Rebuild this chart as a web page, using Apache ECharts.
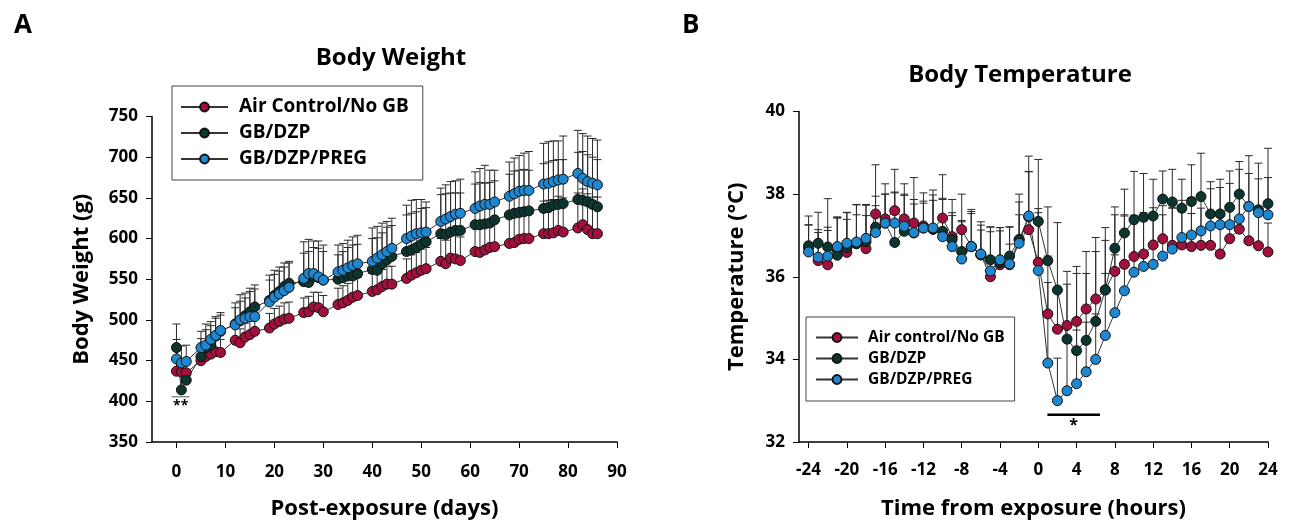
<!DOCTYPE html>
<html>
<head>
<meta charset="utf-8">
<script src="https://cdn.jsdelivr.net/npm/echarts@6/dist/echarts.min.js"></script>
<style>
  html, body { margin: 0; padding: 0; background: #fff; }
  #main { width: 1291px; height: 529px; }
</style>
</head>
<body>
<div id="main"></div>
<script>
// panel A - body weight (g) by post-exposure day
var days = [0, 1, 2, 5, 6, 7, 8, 9, 12, 13, 14, 15, 16, 19, 20, 21, 22, 23, 26, 27, 28, 29, 30,
  33, 34, 35, 36, 37, 40, 41, 42, 43, 44, 47, 48, 49, 50, 51, 54, 55, 56, 57, 58,
  61, 62, 63, 64, 65, 68, 69, 70, 71, 72, 75, 76, 77, 78, 79, 82, 83, 84, 85, 86];
var airWeight = [437, 436, 435, 450, 455, 458, 461, 460, 475, 472, 479, 482, 486, 490, 495, 498, 501, 502,
  509, 510, 516, 515, 510, 519, 521, 524, 528, 530, 535, 537, 541, 544, 544, 551, 555, 558, 561, 563,
  572, 569, 576, 575, 573, 584, 583, 586, 589, 590, 594, 595, 599, 600, 600, 606, 606, 607, 610, 608,
  613, 617, 611, 606, 606];
var dzpWeight = [466, 414, 426, 455, 466, 469, 480, 486, 495, 499, 505, 510, 516, 524, 530, 535, 541, 545,
  547, 546, 553, 552, 549, 550, 552, 554, 554, 557, 562, 561, 569, 574, 578, 584, 586, 589, 593, 596,
  606, 605, 608, 610, 610, 617, 617, 618, 619, 623, 629, 631, 632, 633, 634, 637, 638, 641, 642, 643,
  648, 647, 645, 642, 639];
var pregWeight = [452, 447, 449, 466, 469, 476, 481, 487, 494, 500, 502, 504, 504, 522, 528, 532, 536, 540,
  551, 557, 557, 553, 549, 559, 561, 564, 567, 569, 572, 576, 580, 584, 588, 600, 603, 606, 607, 608,
  621, 624, 627, 630, 631, 637, 640, 642, 642, 645, 652, 655, 658, 659, 659, 667, 668, 670, 672, 673,
  680, 674, 670, 668, 666];
var airWeightErr = [12, 10, 10, 14, 15, 15, 16, 16, 16, 17, 17, 18, 18, 18, 19, 19, 20, 20,
  18, 19, 18, 19, 20, 20, 21, 21, 22, 22, 22, 22, 21, 22, 22, 24, 25, 25, 26, 26,
  28, 29, 28, 29, 29, 32, 33, 33, 34, 34, 36, 37, 37, 38, 38, 40, 41, 41, 42, 42,
  43, 44, 44, 45, 45];
var dzpWeightErr = [29, 25, 22, 22, 22, 24, 22, 20, 20, 24, 22, 25, 22, 25, 26, 25, 24, 25,
  35, 38, 36, 36, 35, 30, 32, 35, 38, 36, 38, 40, 38, 40, 38, 45, 45, 44, 44, 42,
  48, 50, 48, 46, 46, 50, 52, 50, 50, 48, 50, 52, 52, 52, 50, 55, 56, 55, 55, 54,
  58, 60, 58, 58, 58];
var pregWeightErr = [24, 21, 20, 20, 26, 22, 23, 22, 27, 31, 31, 35, 39, 33, 33, 33, 34, 32,
  45, 42, 40, 44, 43, 33, 33, 34, 35, 35, 41, 39, 39, 37, 37, 41, 44, 42, 41, 37,
  41, 42, 43, 41, 42, 45, 46, 48, 42, 39, 42, 44, 44, 46, 48, 50, 51, 50, 48, 53,
  53, 55, 56, 55, 55];
var dayTicks = [0, 10, 20, 30, 40, 50, 60, 70, 80, 90];
var sigDaysA = [-1, 2.7];
var sigLevelA = 405.5;

// panel B - body temperature by hour from exposure
var hours = [-24, -23, -22, -21, -20, -19, -18, -17, -16, -15, -14, -13, -12, -11, -10, -9, -8, -7, -6, -5, -4, -3, -2, -1,
  0, 1, 2, 3, 4, 5, 6, 7, 8, 9, 10, 11, 12, 13, 14, 15, 16, 17, 18, 19, 20, 21, 22, 23, 24];
var airTemp = [36.70, 36.39, 36.29, 36.65, 36.59, 36.80, 36.68, 37.52, 37.40, 37.60, 37.40, 37.30, 37.23, 37.15, 37.42, 36.97,
  37.14, 36.73, 36.53, 36.00, 36.29, 36.29, 36.90, 37.14,
  36.35, 35.10, 34.73, 34.82, 34.92, 35.22, 35.46, 35.68, 36.13, 36.30, 36.49, 36.55, 36.77, 36.92, 36.76, 36.77,
  36.73, 36.76, 36.76, 36.55, 36.92, 37.15, 36.87, 36.75, 36.60];
var dzpTemp = [36.75, 36.81, 36.72, 36.52, 36.70, 36.80, 36.85, 37.20, 37.30, 36.83, 37.10, 37.06, 37.18, 37.15, 37.10, 36.90,
  36.61, 36.73, 36.53, 36.41, 36.34, 36.50, 36.90, 37.45,
  37.34, 36.39, 35.68, 34.49, 34.21, 34.46, 34.92, 35.68, 36.69, 37.06, 37.38, 37.44, 37.47, 37.88, 37.81, 37.66,
  37.82, 37.94, 37.52, 37.52, 37.68, 38.00, 37.70, 37.62, 37.77];
var pregTemp = [36.60, 36.47, 36.50, 36.73, 36.81, 36.84, 36.93, 37.07, 37.30, 37.30, 37.22, 37.07, 37.18, 37.18, 36.97, 36.73,
  36.43, 36.73, 36.55, 36.14, 36.41, 36.31, 36.81, 37.47,
  36.15, 33.91, 33.00, 33.24, 33.41, 33.70, 34.00, 34.58, 35.13, 35.66, 36.11, 36.25, 36.30, 36.50, 36.67, 36.95,
  37.01, 37.11, 37.23, 37.26, 37.26, 37.40, 37.70, 37.55, 37.50];
var airTempErr = [0.55, 0.75, 1.6, 0.8, 0.8, 0.7, 0.8, 1.19, 0.85, 1.0, 0.85, 1.1, 0.8, 0.95, 1.05, 0.9,
  0.86, 0.8, 0.8, 1.2, 0.9, 0.5, 0.6, 1.4,
  1.2, 1.4, 1.0, 1.0, 1.16, 1.39, 1.49, 1.2, 1.37, 1.2, 1.0, 1.0, 0.9, 0.8, 0.9, 0.8,
  0.8, 0.9, 0.8, 0.9, 0.8, 0.9, 0.85, 0.8, 0.7];
var dzpTempErr = [0.72, 0.75, 0.4, 0.9, 0.85, 0.95, 0.9, 0.75, 0.7, 1.2, 0.9, 0.7, 0.6, 0.7, 0.8, 0.65,
  0.75, 0.85, 0.6, 0.8, 0.85, 0.7, 1.1, 1.1,
  1.5, 1.3, 1.63, 1.64, 2.04, 1.62, 1.69, 1.51, 1.0, 1.06, 1.17, 1.06, 0.89, 0.68, 0.79, 0.7,
  0.89, 1.05, 0.78, 0.84, 0.88, 0.79, 0.8, 0.75, 1.34];
var pregTempErr = [0.66, 0.6, 0.7, 0.7, 0.75, 0.9, 0.8, 0.65, 0.7, 0.75, 0.75, 0.8, 0.65, 0.8, 0.9, 0.75,
  0.9, 0.9, 0.7, 0.95, 0.7, 0.9, 1.0, 1.45,
  1.5, 1.95, 1.03, 1.2, 1.3, 1.2, 1.1, 1.5, 1.4, 1.81, 1.2, 1.1, 1.1, 1.0, 1.0, 0.9,
  0.9, 0.9, 0.9, 0.9, 1.0, 1.2, 1.23, 1.2, 0.9];
var hourTicks = [-24, -20, -16, -12, -8, -4, 0, 4, 8, 12, 16, 20, 24];
var sigHoursB = [0.95, 6.45];
var sigLevelB = 32.66;

var FONT = '"Open Sans"';
var RED = '#a3103c';
var GREEN = '#0d3530';
var BLUE = '#1f87cf';

function pairs(xs, ys) {
  return xs.map(function (x, i) { return [x, ys[i]]; });
}
function triples(xs, ys, es) {
  return xs.map(function (x, i) { return [x, ys[i], es[i]]; });
}

function errorItem(params, api) {
  var x = api.value(0), y = api.value(1), e = api.value(2);
  var p0 = api.coord([x, y]);
  var p1 = api.coord([x, y + e]);
  var hw = 4;
  return {
    type: 'group',
    children: [
      { type: 'line', shape: { x1: p0[0], y1: p0[1], x2: p1[0], y2: p1[1] }, style: { stroke: '#2a2a2a', lineWidth: 1 } },
      { type: 'line', shape: { x1: p1[0] - hw, y1: p1[1], x2: p1[0] + hw, y2: p1[1] }, style: { stroke: '#2a2a2a', lineWidth: 1 } }
    ]
  };
}

function errSeries(name, idx, xs, ys, es) {
  return {
    name: name, type: 'custom', xAxisIndex: idx, yAxisIndex: idx, z: 1,
    renderItem: errorItem, encode: { x: 0, y: 1 }, data: triples(xs, ys, es), silent: true
  };
}

function lineSeries(name, idx, xs, ys, color) {
  return {
    name: name, type: 'line', xAxisIndex: idx, yAxisIndex: idx, z: 3,
    data: pairs(xs, ys), symbol: 'circle', symbolSize: 10,
    lineStyle: { color: '#333', width: 1 },
    itemStyle: { color: color, borderColor: '#111', borderWidth: 1 },
    animation: false
  };
}

var axisBase = {
  axisLine: { onZero: false, lineStyle: { color: '#000', width: 1.5 } },
  axisTick: { show: true, inside: false, length: 6, lineStyle: { color: '#000', width: 1 } },
  splitLine: { show: false },
  axisLabel: { color: '#000', fontFamily: FONT, fontWeight: 'bold', fontSize: 17 },
  nameTextStyle: { color: '#000', fontFamily: FONT, fontWeight: 'bold', fontSize: 22 }
};

function ax(extra) {
  var o = JSON.parse(JSON.stringify(axisBase));
  for (var k in extra) {
    if (typeof extra[k] === 'object' && !Array.isArray(extra[k]) && o[k]) {
      for (var j in extra[k]) o[k][j] = extra[k][j];
    } else {
      o[k] = extra[k];
    }
  }
  return o;
}

var chart = echarts.init(document.getElementById('main'));
var option = {
  backgroundColor: '#fff',
  animation: false,
  title: [
    { text: 'A', left: 9, top: 8, textStyle: { fontFamily: FONT, fontWeight: 'bold', fontSize: 26, color: '#000' } },
    { text: 'B', left: 677, top: 8, textStyle: { fontFamily: FONT, fontWeight: 'bold', fontSize: 26, color: '#000' } },
    { text: 'Body Weight', left: 386, top: 41, textAlign: 'center', textStyle: { fontFamily: FONT, fontWeight: 'bold', fontSize: 24, color: '#000' } },
    { text: 'Body Temperature', left: 1015, top: 58, textAlign: 'center', textStyle: { fontFamily: FONT, fontWeight: 'bold', fontSize: 24, color: '#000' } }
  ],
  legend: [
    {
      data: ['Air Control/No GB', 'GB/DZP', 'GB/DZP/PREG'],
      orient: 'vertical', left: 172, top: 86,
      itemWidth: 47, itemHeight: 11, itemGap: 6,
      padding: [11, 14, 11, 8],
      borderColor: '#444', borderWidth: 1,
      textStyle: { fontFamily: FONT, fontWeight: 'bold', fontSize: 19, color: '#000', lineHeight: 20, padding: [0, 0, 0, 6] }
    },
    {
      data: ['Air control/No GB', 'GB/DZP ', 'GB/DZP/PREG '],
      orient: 'vertical', left: 806, top: 317,
      itemWidth: 42, itemHeight: 11, itemGap: 4,
      padding: [12, 10, 13, 9],
      borderColor: '#444', borderWidth: 1,
      textStyle: { fontFamily: FONT, fontWeight: 'bold', fontSize: 15.5, color: '#000', lineHeight: 17, padding: [0, 0, 0, 5] }
    }
  ],
  grid: [
    { left: 152, right: 674, top: 116.5, bottom: 87 },
    { left: 799, right: 23, top: 111.5, bottom: 87 }
  ],
  xAxis: [
    ax({
      gridIndex: 0, type: 'value', min: -5, max: 90,
      name: 'Post-exposure (days)', nameLocation: 'middle', nameGap: 56,
      axisTick: { customValues: dayTicks },
      axisLabel: { customValues: dayTicks, margin: 22 }
    }),
    ax({
      gridIndex: 1, type: 'value', min: -25, max: 24,
      name: 'Time from exposure (hours)', nameLocation: 'middle', nameGap: 56,
      axisTick: { customValues: hourTicks },
      axisLabel: { customValues: hourTicks, margin: 20 }
    })
  ],
  yAxis: [
    ax({
      gridIndex: 0, type: 'value', min: 350, max: 750, interval: 50,
      name: 'Body Weight (g)', nameLocation: 'middle', nameGap: 59,
      axisLabel: { margin: 14 }
    }),
    ax({
      gridIndex: 1, type: 'value', min: 32, max: 40, interval: 2,
      name: 'Temperature (\u00B0C)', nameLocation: 'middle', nameGap: 51,
      axisLabel: { margin: 14 }
    })
  ],
  series: [
    errSeries('err-a-air', 0, days, airWeight, airWeightErr),
    errSeries('err-a-dzp', 0, days, dzpWeight, dzpWeightErr),
    errSeries('err-a-preg', 0, days, pregWeight, pregWeightErr),
    lineSeries('Air Control/No GB', 0, days, airWeight, RED),
    lineSeries('GB/DZP', 0, days, dzpWeight, GREEN),
    lineSeries('GB/DZP/PREG', 0, days, pregWeight, BLUE),
    errSeries('err-b-air', 1, hours, airTemp, airTempErr),
    errSeries('err-b-dzp', 1, hours, dzpTemp, dzpTempErr),
    errSeries('err-b-preg', 1, hours, pregTemp, pregTempErr),
    lineSeries('Air control/No GB', 1, hours, airTemp, RED),
    lineSeries('GB/DZP ', 1, hours, dzpTemp, GREEN),
    lineSeries('GB/DZP/PREG ', 1, hours, pregTemp, BLUE),
    {
      name: 'sigA', type: 'line', xAxisIndex: 0, yAxisIndex: 0, z: 2,
      data: sigDaysA.map(function (d) { return [d, sigLevelA]; }),
      symbol: 'none', lineStyle: { color: '#555', width: 1 }, silent: true,
      markPoint: {
        symbol: 'circle', symbolSize: 0,
        data: [{ coord: [(sigDaysA[0] + sigDaysA[1]) / 2, sigLevelA], value: '**' }],
        label: { show: true, position: 'bottom', distance: 2, formatter: '**', color: '#000', fontFamily: FONT, fontWeight: 'bold', fontSize: 14 }
      }
    },
    {
      name: 'sigB', type: 'line', xAxisIndex: 1, yAxisIndex: 1, z: 2,
      data: sigHoursB.map(function (h) { return [h, sigLevelB]; }),
      symbol: 'none', lineStyle: { color: '#000', width: 2.5 }, silent: true,
      markPoint: {
        symbol: 'circle', symbolSize: 0,
        data: [{ coord: [(sigHoursB[0] + sigHoursB[1]) / 2, sigLevelB], value: '*' }],
        label: { show: true, position: 'bottom', distance: 3, formatter: '*', color: '#000', fontFamily: FONT, fontWeight: 'bold', fontSize: 16 }
      }
    }
  ]
};
chart.setOption(option);
</script>
</body>
</html>
